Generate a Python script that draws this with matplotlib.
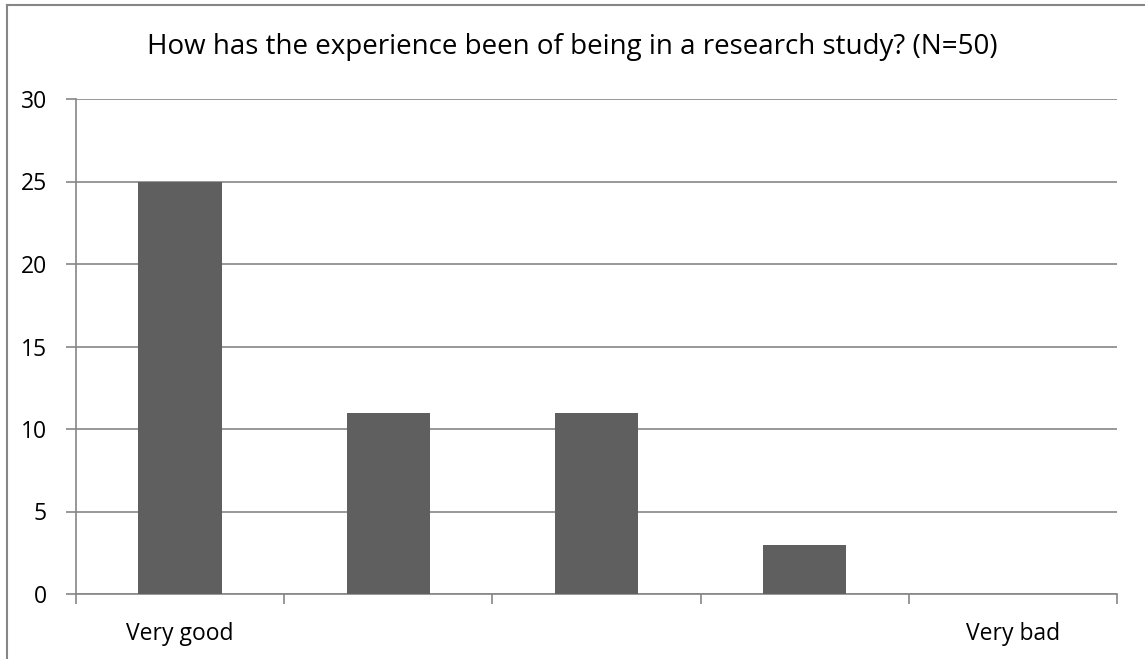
import matplotlib.pyplot as plt
import numpy as np

plt.rcParams['font.family'] = ['Open Sans', 'DejaVu Sans']

categories = ["Very good", "", "", "", "Very bad"]
counts = [25, 11, 11, 3, 0]
title = "How has the experience been of being in a research study? (N=50)"

fig = plt.figure(figsize=(11.45, 6.59), dpi=100)
ax = fig.add_axes([76/1145, 1-594/659, (1117-76)/1145, (594-99)/659])

x = np.arange(len(categories))
ax.bar(x, counts, width=0.4, color="#5f5f5f", zorder=3)
ax.set_xlim(-0.5, len(categories)-0.5)
ax.set_ylim(0, 30)
ax.set_yticks(range(0, 31, 5))
ax.yaxis.grid(True, color="#868686", linewidth=1.2, zorder=0)
ax.set_xticks(np.arange(-0.5, len(categories), 1))
ax.set_xticklabels([])
ax.set_xticks(x, minor=True)
ax.set_xticklabels(categories, minor=True)
ax.tick_params(axis="x", which="minor", length=0, pad=20, labelsize=16.5)
ax.tick_params(axis="x", which="major", length=7, width=1.2, color="#868686", direction="out")
ax.tick_params(axis="y", length=7, width=1.2, color="#868686", labelsize=16.5, pad=14)
for s in ["top", "right"]:
    ax.spines[s].set_visible(False)
for s in ["left", "bottom"]:
    ax.spines[s].set_color("#868686")
    ax.spines[s].set_linewidth(1.2)

fig.text(0.5, 1-47/659, title, ha="center", va="center", fontsize=20)

# chart border (left and top visible)
fig.add_artist(plt.Line2D([7/1145, 7/1145], [0, 1-5/659], transform=fig.transFigure, color="#868686", linewidth=1.5))
fig.add_artist(plt.Line2D([7/1145, 1], [1-5/659, 1-5/659], transform=fig.transFigure, color="#868686", linewidth=1.5))

fig.savefig("out.png", dpi=100)
